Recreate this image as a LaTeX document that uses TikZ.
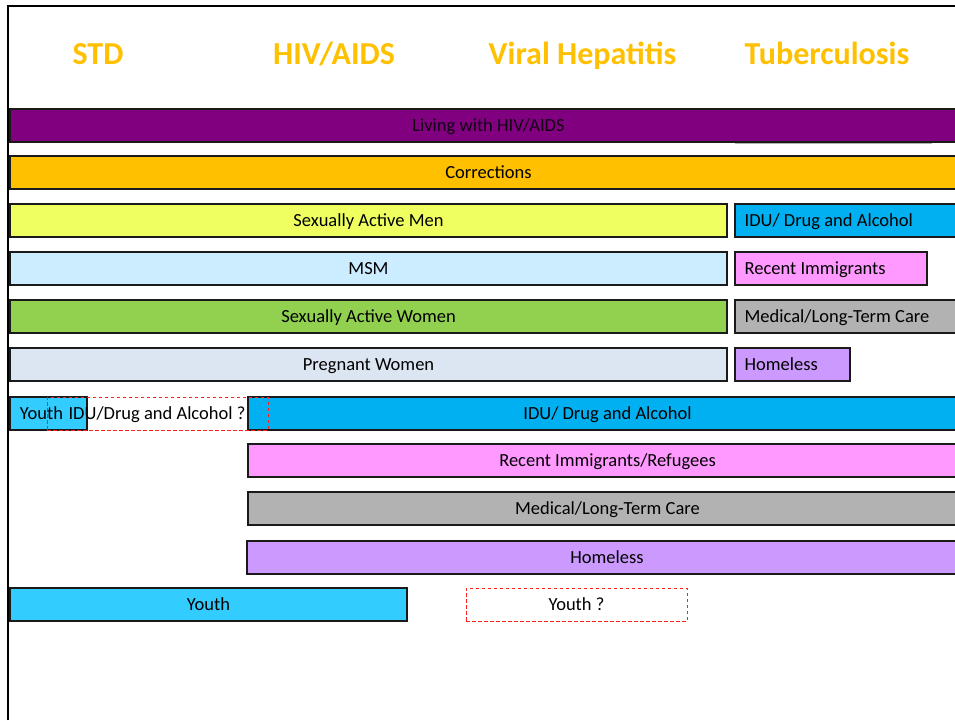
\documentclass[tikz,border=0pt]{standalone}
\usepackage{fontspec}
\setmainfont{Carlito}
\definecolor{hdr}{HTML}{FFC000}
\definecolor{cPurple}{HTML}{800080}
\definecolor{cOrange}{HTML}{FFC000}
\definecolor{cYellow}{HTML}{EFFF5F}
\definecolor{cSky}{HTML}{CCECFF}
\definecolor{cGreen}{HTML}{92D050}
\definecolor{cPale}{HTML}{DCE6F2}
\definecolor{cBlue}{HTML}{00B0F0}
\definecolor{cPink}{HTML}{FF99FF}
\definecolor{cGray}{HTML}{B2B2B2}
\definecolor{cLilac}{HTML}{CC99FF}
\definecolor{cCyan}{HTML}{33CCFF}
\definecolor{cEdge}{HTML}{1A1A1A}
\definecolor{cDash}{HTML}{FF2020}
\begin{document}
\begin{tikzpicture}[x=1pt,y=-1pt,
  header/.style={text=hdr, font=\fontsize{32}{36}\selectfont\bfseries, inner sep=0pt, anchor=base},
  txt/.style={font=\fontsize{18.5}{21}\selectfont, text height=16pt, text depth=4pt},
  bar/.style={draw=cEdge, line width=1.1pt, rectangle, inner sep=0pt,
    minimum height=33pt, txt},
  sidetext/.style={anchor=west, xshift=10pt, inner sep=0pt, txt},
  maybe/.style={draw=cDash, dash pattern=on 3.5pt off 2.5pt,
    line width=1pt, rectangle, inner sep=0pt, minimum height=33pt, txt},
  plain/.style={inner sep=0pt, txt}]
\useasboundingbox (0,0) rectangle (955,720);

% column headings
\node[header] (hStd) at (98,64) {STD};
\node[header] (hHiv) at (334,64) {HIV/AIDS};
\node[header] (hHep) at (582.5,64) {Viral Hepatitis};
\node[header] (hTb)  at (827,64) {Tuberculosis};

% bars across all programs
\node[bar, fill=cPurple, text=black!85!cPurple, minimum width=957pt] (living) at (488.5,125.5) {Living with HIV/AIDS};
\draw[black!30, line width=1pt] (735,143.5) -- (932,143.5);
\node[bar, fill=cOrange, minimum width=957pt] (corr) at (488.5,172.5) {Corrections};

% STD / HIV / Hepatitis populations
\node[bar, fill=cYellow, minimum width=717pt] (sam) at (368.5,220.5) {Sexually Active Men};
\node[bar, fill=cSky,    minimum width=717pt] (msm) at (368.5,268.5) {MSM};
\node[bar, fill=cGreen,  minimum width=717pt] (saw) at (368.5,316.5) {Sexually Active Women};
\node[bar, fill=cPale,   minimum width=717pt] (preg) at (368.5,364.5) {Pregnant Women};

% Tuberculosis populations
\node[bar, fill=cBlue,  minimum width=232pt] (tbIdu)  at (851,220.5) {};
\node[bar, fill=cPink,  minimum width=192pt] (tbImm)  at (831,268.5) {};
\node[bar, fill=cGray,  minimum width=232pt] (tbMed)  at (851,316.5) {};
\node[bar, fill=cLilac, minimum width=115pt] (tbHome) at (792.5,364.5) {};
\node[sidetext] (tbIduT)  at (tbIdu.west)  {IDU/ Drug and Alcohol};
\node[sidetext] (tbImmT)  at (tbImm.west)  {Recent Immigrants};
\node[sidetext] (tbMedT)  at (tbMed.west)  {Medical/Long-Term Care};
\node[sidetext] (tbHomeT) at (tbHome.west) {Homeless};

% shared HIV / Hepatitis / TB populations
\node[bar, fill=cCyan, minimum width=77pt] (youthA) at (48.5,413.5) {};
\node[bar, fill=cBlue,  minimum width=719pt] (idu)  at (607.5,413.5) {IDU/ Drug and Alcohol};
\node[maybe, minimum width=221pt] (youthIdu) at (157.5,413.5) {};
\node[plain] (youthAtxt) at (41.5,413.5) {Youth};
\node[plain] (youthIdutxt) at (157,413.5) {IDU/Drug and Alcohol ?};
\node[bar, fill=cPink,  minimum width=719pt] (imm)  at (607.5,460.5) {Recent Immigrants/Refugees};
\node[bar, fill=cGray,  minimum width=719pt] (med)  at (607.5,508.5) {Medical/Long-Term Care};
\node[bar, fill=cLilac, minimum width=720pt] (home) at (607,557.5) {Homeless};

% youth
\node[bar, fill=cCyan, minimum width=397pt] (youth) at (208.5,604.5) {Youth};
\node[maybe, minimum width=221pt] (youthQ) at (576.5,604.5) {Youth ?};

% page frame
\draw[black, line width=2.2pt] (8,720) -- (8,6) -- (956,6);
\end{tikzpicture}
\end{document}
